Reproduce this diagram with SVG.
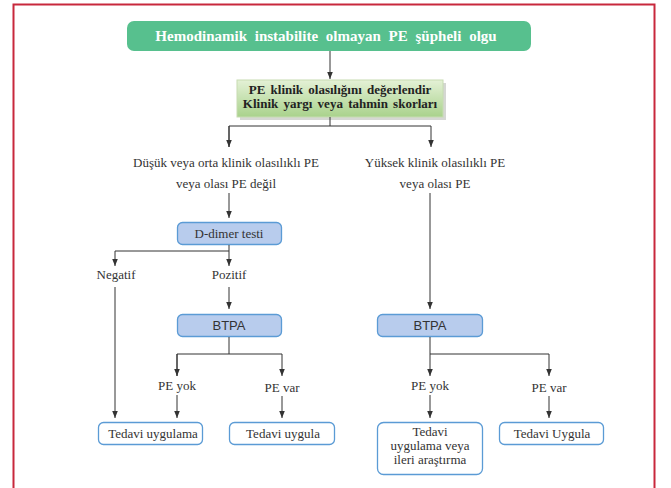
<svg xmlns="http://www.w3.org/2000/svg" width="671" height="488" viewBox="0 0 671 488">
<style>
.t{font-family:"Liberation Serif","Times New Roman",serif;fill:#333;font-size:13px;text-anchor:middle}
.s{font-family:"Liberation Sans",Arial,sans-serif;fill:#333;font-size:13px;text-anchor:middle}
.b{font-family:"Liberation Serif","Times New Roman",serif;font-weight:bold;text-anchor:middle}
.blue{fill:#b8cced;stroke:#5b9bd5;stroke-width:1.3}
.white{fill:#fff;stroke:#5b9bd5;stroke-width:1.3}
.c line,.c path{stroke:#333;stroke-width:1;fill:none}
</style>
<defs>
<marker id="a" viewBox="0 0 10 10" refX="10" refY="5" markerWidth="7" markerHeight="7" orient="auto" markerUnits="userSpaceOnUse">
<path d="M0,1 L10,5 L0,9 z" fill="#333"/>
</marker>
<linearGradient id="g" x1="0" y1="0" x2="0" y2="1">
<stop offset="0" stop-color="#e4f1d6"/>
<stop offset="1" stop-color="#a9d28c"/>
</linearGradient>
</defs>
<rect x="13.5" y="4.5" width="641" height="500" fill="none" stroke="#c8283c" stroke-width="2"/>
<g id="n0">
<rect x="127" y="21" width="404" height="30" rx="7" fill="#57c08e"/>
<text class="b" x="326" y="41" font-size="15" fill="#fff" word-spacing="4">Hemodinamik instabilite olmayan PE şüpheli olgu</text>
</g>
<g id="n1">
<rect x="240" y="83" width="206" height="37" fill="#b9bcb5" opacity="0.6"/>
<rect x="237" y="80" width="206" height="37" fill="url(#g)" stroke="#c7dcb2" stroke-width="1"/>
<text class="b" x="340" y="94" font-size="13" fill="#222" word-spacing="2">PE klinik olasılığını değerlendir</text>
<text class="b" x="340" y="108" font-size="13" fill="#222" word-spacing="2">Klinik yargı veya tahmin skorları</text>
</g>
<g id="n2">
<text class="t" x="226" y="167">Düşük veya orta klinik olasılıklı PE</text>
<text class="t" x="226" y="188">veya olası PE değil</text>
</g>
<g id="n3">
<text class="t" x="435" y="167">Yüksek klinik olasılıklı PE</text>
<text class="t" x="435" y="188">veya olası PE</text>
</g>
<g id="n4">
<rect class="blue" x="177.5" y="222.5" width="104" height="22" rx="5"/>
<text class="t" x="229" y="238" font-size="13.5">D-dimer testi</text>
</g>
<g id="n5"><text class="t" x="116" y="279" font-size="11">Negatif</text></g>
<g id="n6"><text class="t" x="229" y="279" font-size="11">Pozitif</text></g>
<g id="n7">
<rect class="blue" x="177.5" y="314.5" width="104" height="22" rx="5"/>
<text class="s" x="229" y="330">BTPA</text>
</g>
<g id="n8">
<rect class="blue" x="377.5" y="314.5" width="105" height="22" rx="5"/>
<text class="s" x="430" y="330">BTPA</text>
</g>
<g id="n9"><text class="t" x="177" y="390" font-size="11">PE yok</text></g>
<g id="n10"><text class="t" x="282" y="392" font-size="11.5" fill="#555">PE var</text></g>
<g id="n11"><text class="t" x="430" y="390" font-size="11">PE yok</text></g>
<g id="n12"><text class="t" x="549" y="392" font-size="11.5" fill="#555">PE var</text></g>
<g id="n13">
<rect class="white" x="98.5" y="422.5" width="104" height="22" rx="5"/>
<text class="t" x="153" y="438">Tedavi  uygulama</text>
</g>
<g id="n14">
<rect class="white" x="229.5" y="422.5" width="105" height="22" rx="5"/>
<text class="t" x="283" y="438">Tedavi  uygula</text>
</g>
<g id="n15">
<rect class="white" x="377.5" y="422.5" width="105" height="52" rx="6"/>
<text class="t" x="430" y="436">Tedavi</text>
<text class="t" x="430" y="450">uygulama veya</text>
<text class="t" x="430" y="464">ileri araştırma</text>
</g>
<g id="n16">
<rect class="white" x="499.5" y="422.5" width="104" height="22" rx="5"/>
<text class="t" x="552" y="438">Tedavi  Uygula</text>
</g>
<g class="c" id="connectors">
<line x1="330" y1="51" x2="330" y2="79" marker-end="url(#a)"/>
<line x1="330" y1="117" x2="330" y2="126"/>
<path d="M229,147 V126 H431 V147" marker-end="url(#a)"/>
<line x1="229" y1="126" x2="229" y2="147" marker-end="url(#a)"/>
<line x1="229" y1="193" x2="229" y2="218" marker-end="url(#a)"/>
<line x1="229" y1="245" x2="229" y2="251"/>
<path d="M229,251 H115 V266" marker-end="url(#a)"/>
<line x1="229" y1="251" x2="229" y2="266" marker-end="url(#a)"/>
<line x1="229" y1="287" x2="229" y2="309" marker-end="url(#a)"/>
<line x1="115" y1="287" x2="115" y2="418" marker-end="url(#a)"/>
<line x1="229" y1="337" x2="229" y2="354"/>
<path d="M177,376 V354 H282 V376" marker-end="url(#a)"/>
<line x1="177" y1="354" x2="177" y2="376" marker-end="url(#a)"/>
<line x1="177" y1="395" x2="177" y2="418" marker-end="url(#a)"/>
<line x1="282" y1="396" x2="282" y2="418" marker-end="url(#a)"/>
<line x1="430" y1="193" x2="430" y2="309" marker-end="url(#a)"/>
<line x1="430" y1="337" x2="430" y2="376" marker-end="url(#a)"/>
<path d="M430,354 H549 V376" marker-end="url(#a)"/>
<line x1="430" y1="395" x2="430" y2="418" marker-end="url(#a)"/>
<line x1="549" y1="396" x2="549" y2="418" marker-end="url(#a)"/>
</g>
</svg>
